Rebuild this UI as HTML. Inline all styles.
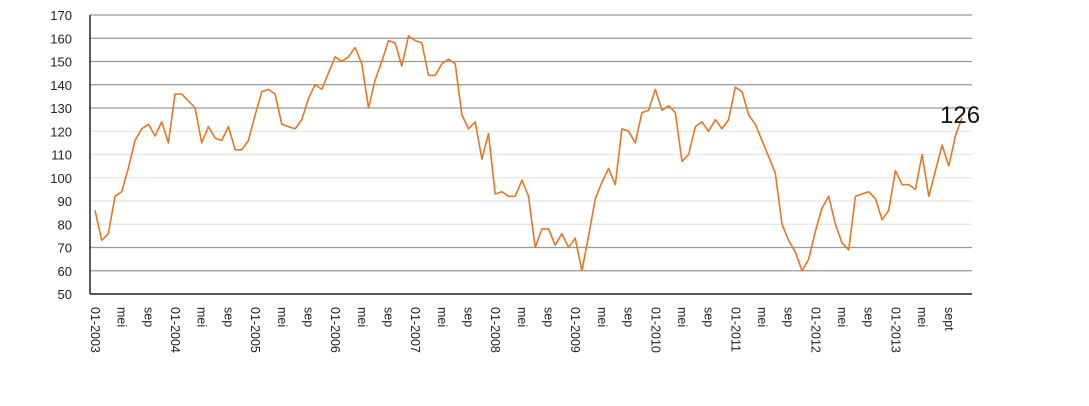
<!DOCTYPE html><html><head><meta charset="utf-8"><style>body{margin:0;background:#fff}svg{display:block}</style></head><body>
<svg width="1089" height="406" xmlns="http://www.w3.org/2000/svg" font-family="Liberation Sans, sans-serif">
<g id="grid"></g><g id="lab"></g>
<line x1="90" y1="294" x2="972" y2="294" stroke="#222" stroke-width="1.5"/>
<line x1="90" y1="15" x2="90" y2="294" stroke="#222" stroke-width="1.5"/>
<polyline id="ln" fill="none" stroke="#E87722" stroke-width="1.6" stroke-linejoin="round"/>
<text x="940" y="123" font-size="24" fill="#111">126</text>
</svg>
<script>
var d=[86,73,76,92,94,104,116,121,123,118,124,115,136,136,133,130,115,122,117,116,122,112,112,116,127,137,138,136,123,122,121,125,134,140,138,145,152,150,152,156,149,130,142,150,159,158,148,161,159,158,144,144,149,151,149,127,121,124,108,119,93,94,92,92,99,92,70,78,78,71,76,70,74,60,75,91,98,104,97,121,120,115,128,129,138,129,131,128,107,110,122,124,120,125,121,125,139,137,127,123,116,109,102,80,73,68,60,65,77,87,92,80,72,69,92,93,94,91,82,86,103,97,97,95,110,92,103,114,105,118,126];
var Y=v=>294-(v-50)*2.325,X=i=>95+i*6.67,ns="http://www.w3.org/2000/svg";
document.getElementById('ln').setAttribute('points',d.map((v,i)=>X(i).toFixed(1)+','+Y(v).toFixed(1)).join(' '));
var g=document.getElementById('grid'),l=document.getElementById('lab');
for(var v=50;v<=170;v+=10){var y=Y(v);if(v>50){var e=document.createElementNS(ns,'line');e.setAttribute('x1',90);e.setAttribute('x2',972);e.setAttribute('y1',y);e.setAttribute('y2',y);var dark=(v>=130||v<=70);e.setAttribute('stroke',dark?'#999':'#e4e4e4');e.setAttribute('stroke-width',1.3);g.appendChild(e);}
var t=document.createElementNS(ns,'text');t.setAttribute('x',72);t.setAttribute('y',y+5);t.setAttribute('text-anchor','end');t.setAttribute('font-size',13);t.setAttribute('fill','#222');t.textContent=v;l.appendChild(t);}
for(var i=0;i<131;i+=4){var m=i%12,s=m==0?'01-'+(2003+i/12):m==4?'mei':(i==128?'sept':'sep');var x=X(i)-4;var t=document.createElementNS(ns,'text');t.setAttribute('transform','translate('+x+',307) rotate(90)');t.setAttribute('font-size',12.5);t.setAttribute('fill','#222');t.textContent=s;l.appendChild(t);}
</script>
</body></html>
